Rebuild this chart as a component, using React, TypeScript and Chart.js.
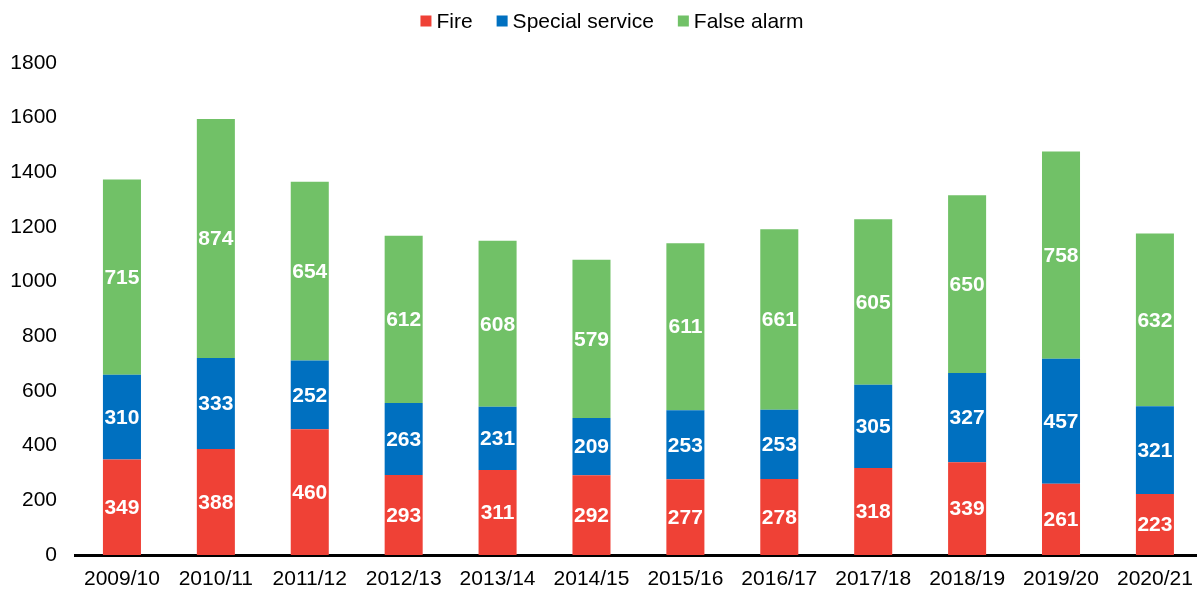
import React, { useEffect, useRef } from "react";
import { Chart, registerables } from "chart.js";

Chart.register(...registerables);

const categories = ["2009/10", "2010/11", "2011/12", "2012/13", "2013/14", "2014/15", "2015/16", "2016/17", "2017/18", "2018/19", "2019/20", "2020/21"];
const fireValues = [349, 388, 460, 293, 311, 292, 277, 278, 318, 339, 261, 223];
const specialValues = [310, 333, 252, 263, 231, 209, 253, 253, 305, 327, 457, 321];
const falseAlarmValues = [715, 874, 654, 612, 608, 579, 611, 661, 605, 650, 758, 632];
const seriesNames = ["Fire", "Special service", "False alarm"];
const seriesColors = ["#EF4136", "#0070C0", "#71C167"];

const FONT = "'Liberation Sans', Arial, sans-serif";

const labelPlugin = {
  id: "segLabels",
  afterDatasetsDraw(chart: any) {
    const ctx = chart.ctx;
    ctx.save();
    ctx.font = `bold 21px ${FONT}`;
    ctx.fillStyle = "#ffffff";
    ctx.textAlign = "center";
    ctx.textBaseline = "middle";
    chart.data.datasets.forEach((ds: any, di: number) => {
      const meta = chart.getDatasetMeta(di);
      meta.data.forEach((el: any, i: number) => {
        const p = el.getProps(["x", "y", "base"], true);
        ctx.fillText(String(ds.data[i]), p.x, (p.y + p.base) / 2 + 1);
      });
    });
    ctx.restore();
  },
};

const legendPlugin = {
  id: "customLegend",
  afterDraw(chart: any) {
    const ctx = chart.ctx;
    ctx.save();
    ctx.font = `21px ${FONT}`;
    ctx.textBaseline = "middle";
    ctx.textAlign = "left";
    const box = 11;
    const gapText = 5;
    const gapItem = 24;
    const widths = seriesNames.map((n) => box + gapText + ctx.measureText(n).width);
    const total = widths.reduce((a, b) => a + b, 0) + gapItem * (seriesNames.length - 1);
    let x = 612 - total / 2;
    const cy = 21;
    seriesNames.forEach((n, i) => {
      ctx.fillStyle = seriesColors[i];
      ctx.fillRect(x, cy - box / 2, box, box);
      ctx.fillStyle = "#000000";
      ctx.fillText(n, x + box + gapText, cy + 1);
      x += widths[i] + gapItem;
    });
    ctx.restore();
  },
};

export default function App() {
  const ref = useRef<HTMLCanvasElement>(null);
  useEffect(() => {
    document.body.style.margin = "0";
    const chart = new Chart(ref.current!, {
      type: "bar",
      data: {
        labels: categories,
        datasets: [
          { label: seriesNames[0], data: fireValues, backgroundColor: seriesColors[0] },
          { label: seriesNames[1], data: specialValues, backgroundColor: seriesColors[1] },
          { label: seriesNames[2], data: falseAlarmValues, backgroundColor: seriesColors[2] },
        ],
      },
      options: {
        animation: false,
        responsive: false,
        maintainAspectRatio: false,
        layout: { padding: { top: 63, left: 0, right: 3, bottom: 0 } },
        datasets: { bar: { categoryPercentage: 1, barPercentage: 0.405 } },
        plugins: { legend: { display: false }, tooltip: { enabled: false } },
        scales: {
          x: {
            stacked: true,
            grid: { display: false, drawTicks: false },
            border: { display: true, color: "#000000", width: 3 },
            ticks: { color: "#000000", font: { family: FONT, size: 21 }, padding: 12, maxRotation: 0, autoSkip: false },
            afterFit: (s: any) => { s.height = 34; },
          },
          y: {
            stacked: true,
            min: 0,
            max: 1800,
            grid: { display: false, drawTicks: false },
            border: { display: false },
            ticks: {
              stepSize: 200,
              color: "#000000",
              font: { family: FONT, size: 21 },
              padding: 18,
              callback: (v: any) => String(v),
            },
            afterFit: (s: any) => { s.width = 75; },
          },
        },
      },
      plugins: [labelPlugin, legendPlugin],
    });
    return () => chart.destroy();
  }, []);
  return (
    <div style={{ width: 1197, height: 589, overflow: "hidden", background: "#fff" }}>
      <canvas ref={ref} width={1205} height={589} style={{ display: "block" }} />
    </div>
  );
}
